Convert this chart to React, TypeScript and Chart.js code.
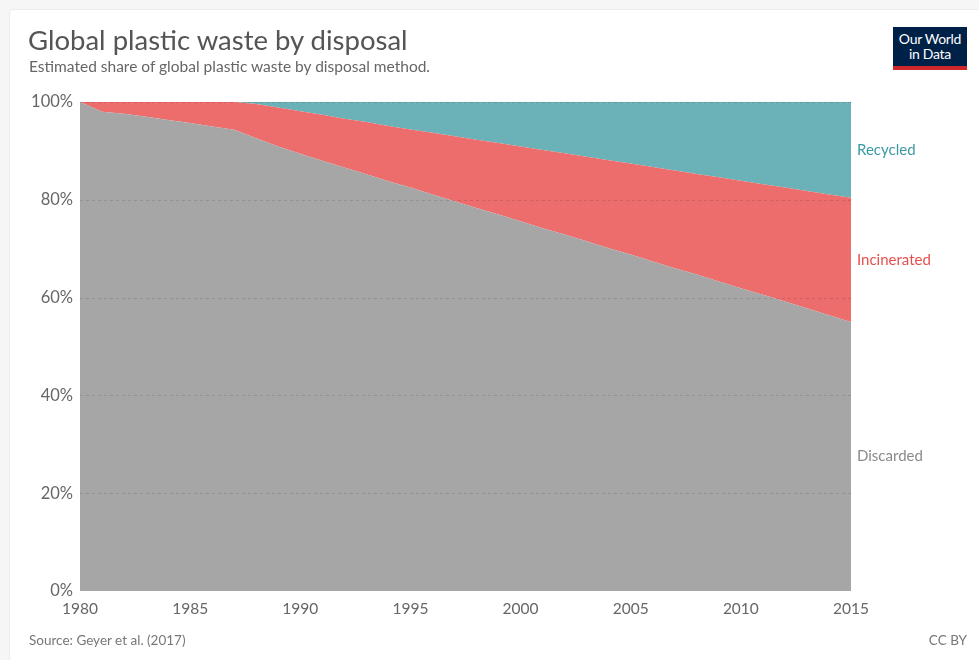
import React, { useEffect, useRef } from "react";
import { Chart, registerables } from "chart.js";

Chart.register(...registerables);

const years: number[] = [
  1980, 1981, 1982, 1983, 1984, 1985, 1986, 1987, 1988, 1989, 1990, 1991,
  1992, 1993, 1994, 1995, 1996, 1997, 1998, 1999, 2000, 2001, 2002, 2003,
  2004, 2005, 2006, 2007, 2008, 2009, 2010, 2011, 2012, 2013, 2014, 2015,
];

const discarded: number[] = [
  100, 98.0, 97.6, 97.0, 96.3, 95.7, 95.0, 94.3, 92.6, 90.9, 89.4, 88.0,
  86.6, 85.2, 83.8, 82.5, 81.1, 79.7, 78.3, 77.0, 75.6, 74.2, 72.9, 71.5,
  70.1, 68.8, 67.4, 66.0, 64.7, 63.3, 61.9, 60.6, 59.2, 57.8, 56.4, 55.0,
];

const incinerated: number[] = [
  0, 2.0, 2.4, 3.0, 3.7, 4.3, 5.0, 5.7, 7.0, 8.0, 8.7, 9.4,
  10.0, 10.7, 11.3, 11.9, 12.6, 13.3, 14.0, 14.6, 15.3, 16.0, 16.6, 17.3,
  18.0, 18.6, 19.3, 20.0, 20.6, 21.3, 22.0, 22.6, 23.3, 24.0, 24.7, 25.4,
];

const recycled: number[] = [
  0, 0, 0, 0, 0, 0, 0, 0, 0.4, 1.1, 1.9, 2.6,
  3.4, 4.1, 4.9, 5.6, 6.3, 7.0, 7.7, 8.4, 9.1, 9.8, 10.5, 11.2,
  11.9, 12.6, 13.3, 14.0, 14.7, 15.4, 16.1, 16.8, 17.5, 18.2, 18.9, 19.6,
];

const seriesNames: string[] = ["Discarded", "Incinerated", "Recycled"];
const xTicks: number[] = [1980, 1985, 1990, 1995, 2000, 2005, 2010, 2015];
const yTicks: number[] = [0, 20, 40, 60, 80, 100];

const fillColors = ["#a6a6a6", "#ec6d6b", "#6bb2b8"];
const labelColors = ["#8a8a8a", "#e5504f", "#3c9aa3"];

const FONT = "Lato, 'Noto Sans', sans-serif";

export default function App() {
  const ref = useRef<HTMLCanvasElement | null>(null);

  useEffect(() => {
    if (!ref.current) return;
    const seriesData = [discarded, incinerated, recycled];

    const gridOnTop = {
      id: "gridOnTop",
      afterDatasetsDraw(chart: any) {
        const { ctx, chartArea, scales } = chart;
        ctx.save();
        ctx.strokeStyle = "rgba(0,0,0,0.12)";
        ctx.lineWidth = 1;
        ctx.setLineDash([3, 3]);
        yTicks.forEach((v) => {
          if (v === 0) return;
          const y = Math.round(scales.y.getPixelForValue(v)) + 0.5;
          ctx.beginPath();
          ctx.moveTo(chartArea.left, y);
          ctx.lineTo(chartArea.right, y);
          ctx.stroke();
        });
        ctx.restore();
      },
    };

    const endLabels = {
      id: "endLabels",
      afterDraw(chart: any) {
        const { ctx, chartArea, scales } = chart;
        const last = years.length - 1;
        let base = 0;
        ctx.save();
        ctx.font = `15px ${FONT}`;
        ctx.textAlign = "left";
        ctx.textBaseline = "middle";
        seriesData.forEach((arr, i) => {
          const v = arr[last];
          const mid = base + v / 2;
          base += v;
          ctx.fillStyle = labelColors[i];
          ctx.fillText(
            seriesNames[i],
            chartArea.right + 6,
            scales.y.getPixelForValue(mid)
          );
        });
        ctx.restore();
      },
    };

    const chart = new Chart(ref.current, {
      type: "line",
      data: {
        datasets: seriesNames.map((name, i) => ({
          label: name,
          data: years.map((yr, k) => ({ x: yr, y: seriesData[i][k] })),
          backgroundColor: fillColors[i],
          borderColor: fillColors[i],
          borderWidth: 0,
          pointRadius: 0,
          fill: i === 0 ? "origin" : "-1",
          tension: 0,
        })),
      },
      options: {
        animation: false,
        responsive: false,
        maintainAspectRatio: false,
        layout: { padding: { left: 0, top: 102, right: 128, bottom: 0 } },
        plugins: {
          legend: { display: false },
          tooltip: { enabled: false },
          title: { display: false },
        },
        scales: {
          x: {
            type: "linear",
            min: 1980,
            max: 2015,
            afterBuildTicks: (s: any) => {
              s.ticks = xTicks.map((v) => ({ value: v }));
            },
            afterFit: (s: any) => {
              s.height = 69;
            },
            grid: { display: false, drawTicks: false },
            border: { display: false },
            ticks: {
              padding: 9,
              color: "#666",
              font: { family: FONT, size: 15.5 },
              maxRotation: 0,
              callback: (v: any) => String(v),
            },
          },
          y: {
            stacked: true,
            min: 0,
            max: 100,
            afterBuildTicks: (s: any) => {
              s.ticks = yTicks.map((v) => ({ value: v }));
            },
            afterFit: (s: any) => {
              s.width = 80;
            },
            grid: { display: false, drawTicks: false },
            border: { display: false },
            ticks: {
              padding: 7,
              color: "#666",
              font: { family: FONT, size: 16.5 },
              callback: (v: any) => `${v}%`,
            },
          },
        },
      },
      plugins: [gridOnTop, endLabels],
    } as any);

    return () => chart.destroy();
  }, []);

  return (
    <div
      style={{
        position: "fixed",
        left: 0,
        top: 0,
        width: 979,
        height: 660,
        background: "#f6f6f6",
        overflow: "hidden",
        fontFamily: FONT,
      }}
    >
      <div
        style={{
          position: "absolute",
          left: 9,
          top: 9,
          width: 990,
          height: 680,
          background: "#fff",
          border: "1px solid #ececec",
          borderRadius: 4,
        }}
      />
      <canvas
        ref={ref}
        width={979}
        height={660}
        style={{ position: "absolute", left: 0, top: 0, width: 979, height: 660 }}
      />
      <div
        style={{
          position: "absolute",
          left: 28,
          top: 23,
          fontSize: 27.5,
          color: "#555",
          whiteSpace: "nowrap",
          lineHeight: "34px",
        }}
      >
        Global plastic waste by disposal
      </div>
      <div
        style={{
          position: "absolute",
          left: 29,
          top: 56,
          fontSize: 15.5,
          color: "#666",
          whiteSpace: "nowrap",
          lineHeight: "20px",
        }}
      >
        Estimated share of global plastic waste by disposal method.
      </div>
      <div
        style={{
          position: "absolute",
          left: 893,
          top: 27,
          width: 74,
          height: 43,
          background: "#002147",
          color: "#fff",
          fontSize: 14,
          lineHeight: "15px",
          textAlign: "center",
          boxSizing: "border-box",
          paddingTop: 4,
          borderBottom: "4px solid #d0282a",
          letterSpacing: -0.3,
        }}
      >
        Our World
        <br />
        in Data
      </div>
      <div
        style={{
          position: "absolute",
          left: 29,
          top: 632,
          fontSize: 13.5,
          color: "#777",
          whiteSpace: "nowrap",
          lineHeight: "16px",
        }}
      >
        Source: Geyer et al. (2017)
      </div>
      <div
        style={{
          position: "absolute",
          right: 12,
          top: 632,
          fontSize: 13.5,
          color: "#777",
          whiteSpace: "nowrap",
          lineHeight: "16px",
        }}
      >
        CC BY
      </div>
    </div>
  );
}
